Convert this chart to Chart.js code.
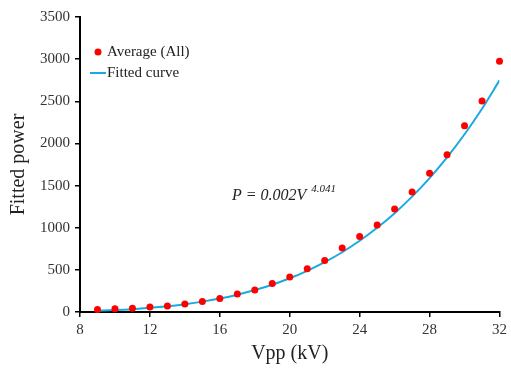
<!DOCTYPE html>
<html>
<head>
<meta charset="utf-8">
<script src="https://cdn.jsdelivr.net/npm/chart.js@4.4.0/dist/chart.umd.min.js"></script>
<style>
html,body{margin:0;padding:0;background:#fff;}
#wrap{width:511px;height:368px;position:relative;}
</style>
</head>
<body>
<div id="wrap"><canvas id="c" width="511" height="368"></canvas></div>
<script>
const voltages = [9,10,11,12,13,14,15,16,17,18,19,20,21,22,23,24,25,26,27,28,29,30,31,32];
const averageAll = [30,38,45,58,72,95,125,160,213,262,338,415,512,610,760,895,1032,1222,1424,1645,1865,2210,2503,2975];
const fittedCurve = [15,23,34,49,68,93,123,160,205,260,324,400,489,591,709,845,999,1173,1369,1589,1835,2109,2412,2748];
const xTicks = [8,12,16,20,24,28,32];
const yTicks = [0,500,1000,1500,2000,2500,3000,3500];
const legendLabels = ["Average (All)", "Fitted curve"];
const equationMain = "P = 0.002V";
const equationExp = "4.041";

const serif = "'Liberation Serif', 'Times New Roman', serif";

const overlay = {
  id: 'overlay',
  afterDraw(chart) {
    const ctx = chart.ctx;
    ctx.save();
    ctx.fillStyle = '#ff0000';
    ctx.beginPath(); ctx.arc(98, 52, 3.5, 0, Math.PI*2); ctx.fill();
    ctx.strokeStyle = '#1aa9e0'; ctx.lineWidth = 2;
    ctx.beginPath(); ctx.moveTo(90, 73); ctx.lineTo(106, 73); ctx.stroke();
    ctx.fillStyle = '#222';
    ctx.font = "15px " + serif;
    ctx.textBaseline = 'middle';
    ctx.textAlign = 'left';
    ctx.fillText(legendLabels[0], 107, 52);
    ctx.fillText(legendLabels[1], 107, 73);
    ctx.font = "italic 16px " + serif;
    ctx.fillText(equationMain, 232, 196);
    const w = ctx.measureText(equationMain).width;
    ctx.font = "italic 11px " + serif;
    ctx.fillText(equationExp, 232 + w + 5, 189);
    ctx.restore();
  }
};

new Chart(document.getElementById('c'), {
  type: 'scatter',
  data: {
    datasets: [
      {
        label: legendLabels[1],
        type: 'line',
        data: voltages.map((v,i)=>({x:v,y:fittedCurve[i]})),
        borderColor: '#1aa9e0',
        borderWidth: 2,
        pointRadius: 0,
        cubicInterpolationMode: 'monotone',
        fill: false,
        order: 2
      },
      {
        label: legendLabels[0],
        data: voltages.map((v,i)=>({x:v,y:averageAll[i]})),
        backgroundColor: '#ff0000',
        borderColor: '#ff0000',
        pointRadius: 3.5,
        pointBorderWidth: 0,
        clip: false,
        order: 1
      }
    ]
  },
  options: {
    responsive: false,
    animation: false,
    events: [],
    layout: { padding: { top: 17, right: 9, left: 0, bottom: 0 } },
    plugins: { legend: { display: false }, tooltip: { enabled: false } },
    scales: {
      x: {
        type: 'linear', min: 8, max: 32,
        afterBuildTicks: s => { s.ticks = xTicks.map(v=>({value:v})); },
        afterFit: s => { s.height = 56; },
        grid: { drawOnChartArea: false, drawTicks: true, tickLength: 5, color: '#000', lineWidth: 1.5 },
        border: { display: true, color: '#000', width: 2 },
        ticks: { color: '#333', font: { family: serif, size: 15 }, padding: 4, maxRotation: 0, callback: v => String(v) },
        title: { display: true, text: 'Vpp (kV)', color: '#222', font: { family: serif, size: 20 }, padding: { top: 0, bottom: 2 } }
      },
      y: {
        type: 'linear', min: 0, max: 3500,
        afterBuildTicks: s => { s.ticks = yTicks.map(v=>({value:v})); },
        afterFit: s => { s.width = 80; },
        grid: { drawOnChartArea: false, drawTicks: true, tickLength: 5, color: '#000', lineWidth: 1.5 },
        border: { display: true, color: '#000', width: 2 },
        ticks: { color: '#333', font: { family: serif, size: 15 }, padding: 5, callback: v => String(v) },
        title: { display: true, text: 'Fitted power', color: '#222', font: { family: serif, size: 20 }, padding: { top: 7, bottom: 4 } }
      }
    }
  },
  plugins: [overlay]
});
</script>
</body>
</html>
